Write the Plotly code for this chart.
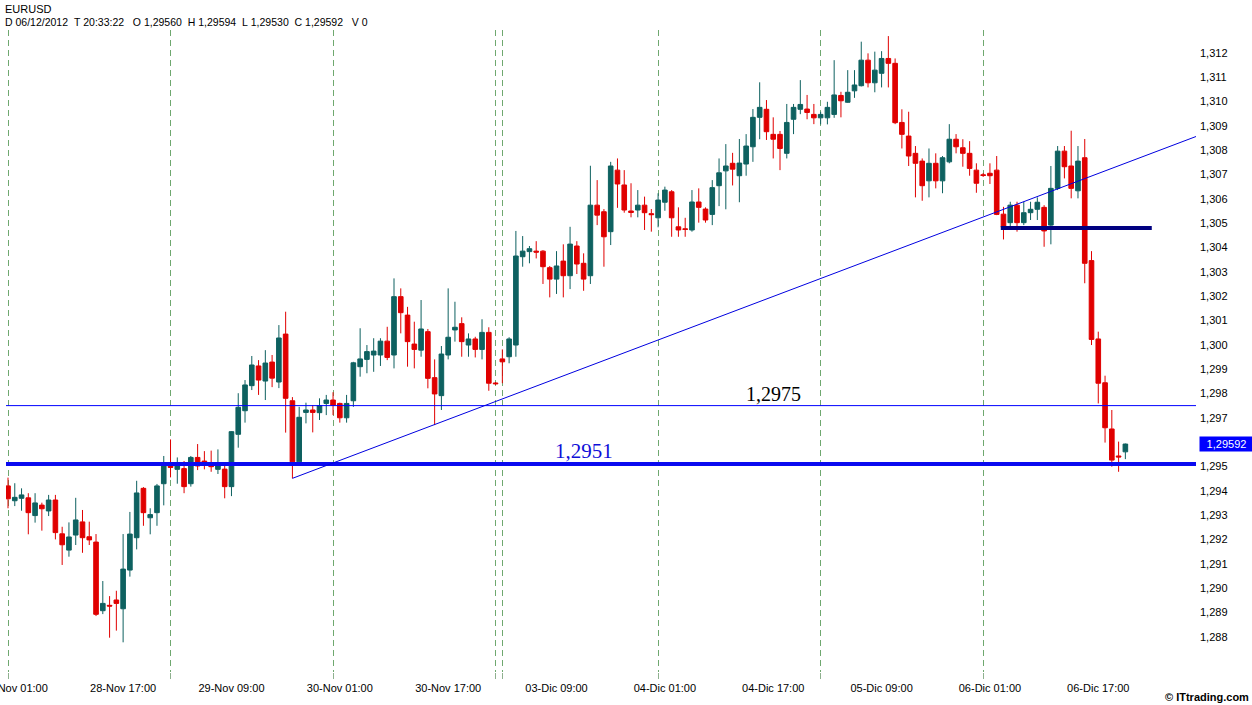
import plotly.graph_objects as go

# ---------------- data (hourly EURUSD candles, index 0 = 28-Nov 00:00) ----------------
opens = [1.29420, 1.29359, 1.29369, 1.29371, 1.29298, 1.29341, 1.29317, 1.29362, 1.29223, 1.29156,
         1.29218, 1.29272, 1.29211, 1.29189, 1.28907, 1.28929, 1.28951, 1.28915, 1.29074, 1.29207,
         1.29410, 1.29289, 1.29310, 1.29429, 1.29502, 1.29488, 1.29491, 1.29429, 1.29537, 1.29522,
         1.29513, 1.29488, 1.29489, 1.29417, 1.29632, 1.29729, 1.29832, 1.29913, 1.29851, 1.29929,
         1.29847, 1.30044, 1.29770, 1.29519, 1.29722, 1.29732, 1.29721, 1.29759, 1.29773, 1.29759,
         1.29700, 1.29770, 1.29910, 1.29940, 1.29958, 1.29958, 1.30015, 1.29958, 1.30198, 1.30122,
         1.30003, 1.29978, 1.30054, 1.29865, 1.29791, 1.29958, 1.30061, 1.30087, 1.29999, 1.30024,
         1.29981, 1.30051, 1.29843, 1.29942, 1.29951, 1.29999, 1.30362, 1.30383, 1.30385, 1.30385,
         1.30317, 1.30270, 1.30344, 1.30284, 1.30406, 1.30335, 1.30284, 1.30574, 1.30547, 1.30465,
         1.30718, 1.30657, 1.30550, 1.30554, 1.30574, 1.30539, 1.30522, 1.30586, 1.30629, 1.30485,
         1.30477, 1.30472, 1.30587, 1.30558, 1.30536, 1.30654, 1.30715, 1.30746, 1.30695, 1.30743,
         1.30814, 1.30935, 1.30968, 1.30865, 1.30865, 1.30787, 1.30927, 1.30968, 1.30969, 1.30947,
         1.30933, 1.30933, 1.30947, 1.31025, 1.30997, 1.31044, 1.31065, 1.31170, 1.31077, 1.31116,
         1.31177, 1.31157, 1.30914, 1.30858, 1.30787, 1.30755, 1.30674, 1.30746, 1.30674, 1.30752,
         1.30845, 1.30810, 1.30787, 1.30718, 1.30699, 1.30705, 1.30718, 1.30537, 1.30502, 1.30574,
         1.30502, 1.30543, 1.30557, 1.30565, 1.30492, 1.30643, 1.30796, 1.30735, 1.30633, 1.30769,
         1.30346, 1.30024, 1.29844, 1.29654, 1.29543, 1.29560]
highs = [1.29454, 1.29431, 1.29410, 1.29390, 1.29390, 1.29351, 1.29383, 1.29383, 1.29252, 1.29270,
         1.29371, 1.29321, 1.29273, 1.29222, 1.29029, 1.28967, 1.28989, 1.29222, 1.29313, 1.29441,
         1.29415, 1.29328, 1.29428, 1.29543, 1.29611, 1.29537, 1.29522, 1.29543, 1.29592, 1.29563,
         1.29565, 1.29570, 1.29505, 1.29645, 1.29801, 1.29855, 1.29954, 1.29937, 1.29978, 1.29958,
         1.30081, 1.30136, 1.29785, 1.29745, 1.29762, 1.29752, 1.29780, 1.29794, 1.29805, 1.29762,
         1.29794, 1.29930, 1.30068, 1.29999, 1.30027, 1.30027, 1.30074, 1.30273, 1.30232, 1.30156,
         1.30095, 1.30184, 1.30065, 1.29940, 1.29995, 1.30232, 1.30177, 1.30113, 1.30047, 1.30033,
         1.30105, 1.30072, 1.29847, 1.29981, 1.30031, 1.30468, 1.30447, 1.30406, 1.30426, 1.30389,
         1.30324, 1.30385, 1.30413, 1.30485, 1.30426, 1.30376, 1.30736, 1.30677, 1.30558, 1.30752,
         1.30766, 1.30718, 1.30664, 1.30636, 1.30609, 1.30558, 1.30623, 1.30650, 1.30636, 1.30565,
         1.30522, 1.30636, 1.30643, 1.30565, 1.30677, 1.30766, 1.30825, 1.30789, 1.30846, 1.30866,
         1.30969, 1.31079, 1.31006, 1.30935, 1.30879, 1.30990, 1.30990, 1.31088, 1.31027, 1.30990,
         1.30958, 1.30999, 1.31170, 1.31040, 1.31129, 1.31129, 1.31246, 1.31198, 1.31205, 1.31207,
         1.31269, 1.31177, 1.30968, 1.30958, 1.30817, 1.30766, 1.30807, 1.30787, 1.30776, 1.30907,
         1.30866, 1.30845, 1.30837, 1.30746, 1.30706, 1.30746, 1.30776, 1.30567, 1.30588, 1.30588,
         1.30588, 1.30588, 1.30606, 1.30574, 1.30735, 1.30817, 1.30817, 1.30880, 1.30817, 1.30846,
         1.30385, 1.30054, 1.29873, 1.29732, 1.29602, 1.29594]
lows = [1.29328, 1.29337, 1.29318, 1.29221, 1.29269, 1.29236, 1.29296, 1.29200, 1.29095, 1.29129,
        1.29177, 1.29145, 1.29177, 1.28885, 1.28893, 1.28796, 1.28825, 1.28777, 1.29047, 1.29159,
        1.29256, 1.29221, 1.29256, 1.29340, 1.29455, 1.29429, 1.29390, 1.29417, 1.29485, 1.29488,
        1.29478, 1.29469, 1.29369, 1.29378, 1.29577, 1.29680, 1.29814, 1.29794, 1.29773, 1.29826,
        1.29822, 1.29639, 1.29451, 1.29514, 1.29677, 1.29640, 1.29691, 1.29711, 1.29711, 1.29680,
        1.29680, 1.29745, 1.29869, 1.29883, 1.29889, 1.29913, 1.29937, 1.29903, 1.30047, 1.29910,
        1.29903, 1.29951, 1.29821, 1.29670, 1.29732, 1.29940, 1.30013, 1.29951, 1.29951, 1.29948,
        1.29940, 1.29811, 1.29835, 1.29842, 1.29924, 1.29951, 1.30321, 1.30335, 1.30355, 1.30250,
        1.30195, 1.30209, 1.30195, 1.30229, 1.30291, 1.30222, 1.30250, 1.30492, 1.30321, 1.30410,
        1.30563, 1.30543, 1.30524, 1.30524, 1.30472, 1.30465, 1.30483, 1.30551, 1.30444, 1.30444,
        1.30444, 1.30465, 1.30502, 1.30502, 1.30492, 1.30570, 1.30557, 1.30655, 1.30586, 1.30695,
        1.30752, 1.30845, 1.30842, 1.30766, 1.30718, 1.30766, 1.30866, 1.30948, 1.30927, 1.30907,
        1.30906, 1.30906, 1.30933, 1.30935, 1.30995, 1.31015, 1.31062, 1.31058, 1.31038, 1.31058,
        1.31058, 1.30907, 1.30807, 1.30735, 1.30606, 1.30592, 1.30606, 1.30643, 1.30623, 1.30746,
        1.30787, 1.30732, 1.30695, 1.30625, 1.30690, 1.30661, 1.30533, 1.30433, 1.30485, 1.30465,
        1.30492, 1.30513, 1.30513, 1.30403, 1.30413, 1.30636, 1.30684, 1.30602, 1.30602, 1.30253,
        1.29999, 1.29759, 1.29598, 1.29499, 1.29478, 1.29530]
closes = [1.29367, 1.29373, 1.29383, 1.29310, 1.29350, 1.29326, 1.29362, 1.29228, 1.29178, 1.29210,
          1.29280, 1.29207, 1.29198, 1.28892, 1.28937, 1.28926, 1.28937, 1.29078, 1.29222, 1.29391,
          1.29310, 1.29302, 1.29420, 1.29506, 1.29496, 1.29502, 1.29417, 1.29537, 1.29502, 1.29513,
          1.29499, 1.29502, 1.29417, 1.29643, 1.29743, 1.29835, 1.29917, 1.29855, 1.29925, 1.29863,
          1.30028, 1.29780, 1.29519, 1.29702, 1.29732, 1.29722, 1.29750, 1.29773, 1.29752, 1.29700,
          1.29759, 1.29926, 1.29942, 1.29972, 1.29974, 1.30015, 1.29948, 1.30198, 1.30132, 1.30013,
          1.29981, 1.30065, 1.29862, 1.29798, 1.29962, 1.30031, 1.30072, 1.30013, 1.30024, 1.29981,
          1.30051, 1.29842, 1.29840, 1.29930, 1.30024, 1.30365, 1.30385, 1.30395, 1.30381, 1.30321,
          1.30270, 1.30324, 1.30284, 1.30414, 1.30332, 1.30270, 1.30574, 1.30533, 1.30444, 1.30735,
          1.30661, 1.30554, 1.30544, 1.30574, 1.30543, 1.30535, 1.30595, 1.30636, 1.30522, 1.30472,
          1.30474, 1.30587, 1.30565, 1.30513, 1.30646, 1.30707, 1.30735, 1.30722, 1.30747, 1.30817,
          1.30935, 1.30976, 1.30876, 1.30845, 1.30807, 1.30914, 1.30976, 1.30988, 1.30955, 1.30933,
          1.30947, 1.30976, 1.31027, 1.31003, 1.31038, 1.31068, 1.31170, 1.31077, 1.31129, 1.31177,
          1.31157, 1.30913, 1.30865, 1.30776, 1.30746, 1.30654, 1.30746, 1.30674, 1.30769, 1.30845,
          1.30814, 1.30787, 1.30725, 1.30664, 1.30696, 1.30695, 1.30536, 1.30483, 1.30574, 1.30502,
          1.30543, 1.30557, 1.30586, 1.30468, 1.30643, 1.30796, 1.30732, 1.30643, 1.30755, 1.30335,
          1.30022, 1.29842, 1.29659, 1.29526, 1.29539, 1.29592]
candle_idx = list(range(len(opens)))

day_bounds = [0, 24, 48, 72, 73, 96, 120, 144]
xtick_idx = [1, 17, 33, 49, 65, 81, 97, 113, 129, 145, 161]
xtick_text = ["28-Nov 01:00", "28-Nov 17:00", "29-Nov 09:00", "30-Nov 01:00", "30-Nov 17:00",
              "03-Dic 09:00", "04-Dic 01:00", "04-Dic 17:00", "05-Dic 09:00", "06-Dic 01:00",
              "06-Dic 17:00"]
ytick_vals = [1.288, 1.289, 1.290, 1.291, 1.292, 1.293, 1.294, 1.295, 1.297, 1.298, 1.299,
              1.300, 1.301, 1.302, 1.303, 1.304, 1.305, 1.306, 1.307, 1.308, 1.309, 1.310, 1.311, 1.312]
ytick_text = ["1,288", "1,289", "1,290", "1,291", "1,292", "1,293", "1,294", "1,295", "1,297",
              "1,298", "1,299", "1,300", "1,301", "1,302", "1,303", "1,304", "1,305", "1,306", "1,307",
              "1,308", "1,309", "1,310", "1,311", "1,312"]

levels = [1.2975, 1.2951]
level_text = ["1,2975", "1,2951"]
level_text_idx = [113, 85]
trend_x = [42, 175.6]
trend_y = [1.29451, 1.30858]
support_x = [146.6, 168.9]
support_y = [1.30480, 1.30480]

header1 = "EURUSD"
header2 = ("D\u00a006/12/2012\u00a0\u00a0T\u00a020:33:22\u00a0\u00a0\u00a0O\u00a01,29560\u00a0\u00a0"
           "H\u00a01,29594\u00a0\u00a0L\u00a01,29530\u00a0\u00a0C\u00a01,29592\u00a0\u00a0\u00a0V\u00a00")
last_price = closes[-1]
last_text = "1,29592"

UP = "#0e6160"
DN = "#e00000"
FONT = "Liberation Sans"

fig = go.Figure()
fig.add_trace(go.Candlestick(
    x=candle_idx, open=opens, high=highs, low=lows, close=closes,
    increasing=dict(line=dict(color=UP, width=1), fillcolor=UP),
    decreasing=dict(line=dict(color=DN, width=1), fillcolor=DN),
    whiskerwidth=0, showlegend=False, hoverinfo="skip"))

shapes = [
    dict(type="line", xref="paper", x0=0, x1=1, yref="y", y0=levels[0], y1=levels[0],
         line=dict(color="#0000ff", width=1), layer="above"),
    dict(type="line", xref="paper", x0=0, x1=1, yref="y", y0=levels[1], y1=levels[1],
         line=dict(color="#0a0af0", width=4), layer="above"),
    dict(type="line", xref="x", yref="y", x0=trend_x[0], x1=trend_x[1], y0=trend_y[0], y1=trend_y[1],
         line=dict(color="#0000e0", width=1), layer="above"),
    dict(type="line", xref="x", yref="y", x0=support_x[0], x1=support_x[1], y0=support_y[0], y1=support_y[1],
         line=dict(color="#000080", width=4), layer="above"),
]

annotations = [
    dict(x=level_text_idx[0], y=levels[0], xref="x", yref="y", text=level_text[0], showarrow=False,
         yanchor="bottom", yshift=-1, font=dict(family="Liberation Serif", size=20, color="#000000")),
    dict(x=level_text_idx[1], y=levels[1], xref="x", yref="y", text=level_text[1], showarrow=False,
         yanchor="bottom", yshift=-1, font=dict(family="Liberation Serif", size=21, color="#0f0fd8")),
    dict(x=0, y=1, xref="paper", yref="paper", text=header1, showarrow=False, xanchor="left",
         yanchor="middle", xshift=-3, yshift=21, font=dict(family=FONT, size=11, color="#000000")),
    dict(x=0, y=1, xref="paper", yref="paper", text=header2, showarrow=False, xanchor="left",
         yanchor="middle", xshift=-3, yshift=8, font=dict(family=FONT, size=10.5, color="#000000")),
    dict(x=1, y=0, xref="paper", yref="paper", text="\u00a9 ITtrading.com", showarrow=False,
         xanchor="right", yanchor="middle", xshift=55, yshift=-25,
         font=dict(family=FONT, size=11, color="#000000", weight="bold")),
    dict(x=1, y=last_price, xref="paper", yref="y", text=last_text, showarrow=False,
         xanchor="left", yanchor="middle", xshift=3, width=51, height=12, borderpad=1,
         bgcolor="#0000ff", font=dict(family=FONT, size=11, color="#ffffff")),
]

fig.update_layout(
    width=1252, height=705,
    margin=dict(l=6, r=56, t=30, b=33, autoexpand=False),
    paper_bgcolor="#ffffff", plot_bgcolor="#ffffff",
    boxgap=0.32, boxgroupgap=0,
    showlegend=False,
    shapes=shapes, annotations=annotations,
    font=dict(family=FONT, size=11, color="#000000"),
    xaxis=dict(range=[-0.295, 175.43], automargin=False, showgrid=False, zeroline=False, showline=False,
               tickmode="array", tickvals=xtick_idx, ticktext=xtick_text, ticks="",
               ticklabelstandoff=8, ticklabeloverflow="allow",
               tickfont=dict(family=FONT, size=11, color="#000000"),
               rangeslider=dict(visible=False),
               minor=dict(tickmode="array", tickvals=day_bounds, ticks="outside", ticklen=6,
                          tickcolor="#8fb08f", showgrid=True, gridcolor="#6fa86f",
                          griddash="6px,4px", gridwidth=1)),
    yaxis=dict(range=[1.28655, 1.31294], automargin=False, side="right", showgrid=False, zeroline=False,
               showline=False, tickmode="array", tickvals=ytick_vals, ticktext=ytick_text,
               ticks="", ticklabelstandoff=3,
               tickfont=dict(family=FONT, size=11, color="#000000")),
)

fig.write_html("out.html")
